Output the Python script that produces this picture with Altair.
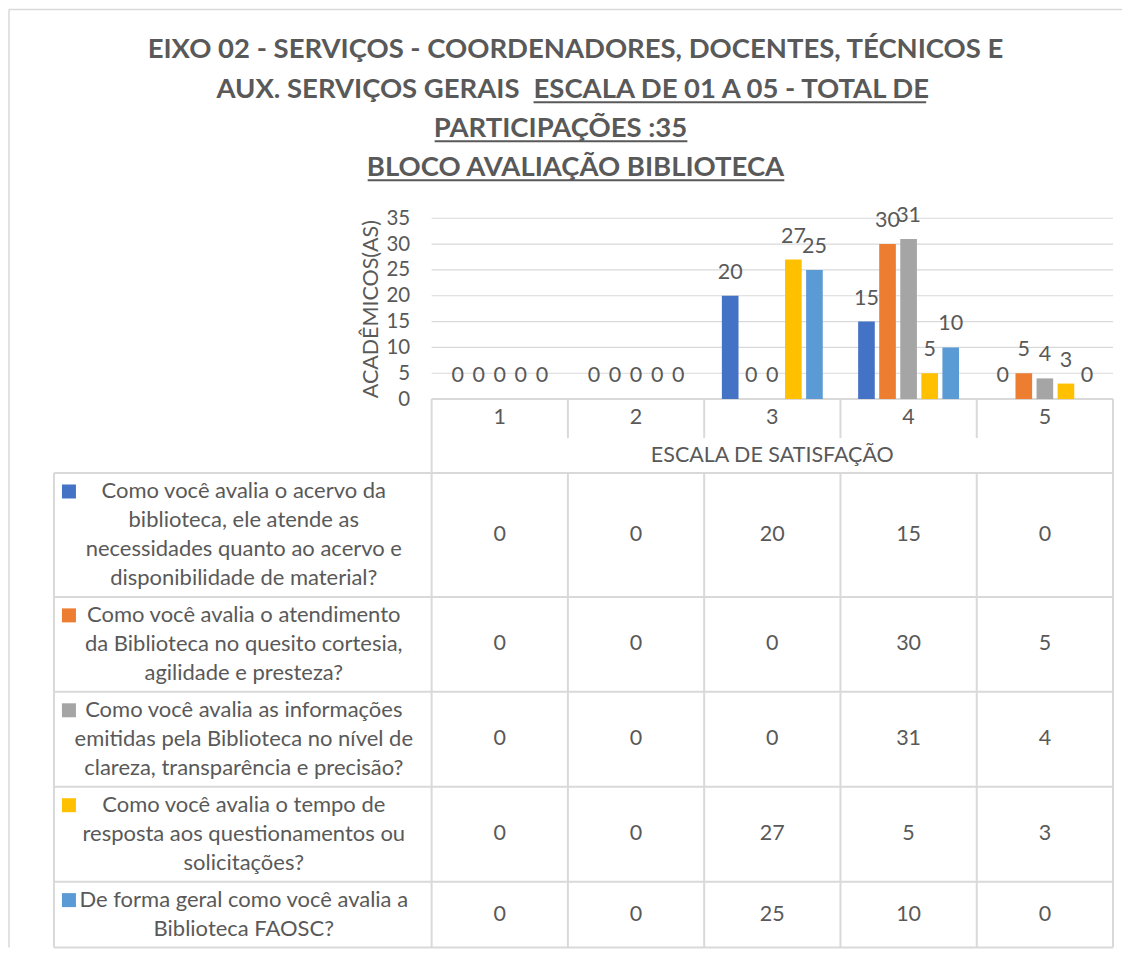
import altair as alt
import pandas as pd

# ---------------- data ----------------
categories = ["1", "2", "3", "4", "5"]
label_lines = [
    ["Como você avalia o acervo da", "biblioteca, ele atende as",
     "necessidades quanto ao acervo e", "disponibilidade de material?"],
    ["Como você avalia o atendimento", "da Biblioteca no quesito cortesia,",
     "agilidade e presteza?"],
    ["Como você avalia as informações", "emitidas pela Biblioteca no nível de",
     "clareza, transparência e precisão?"],
    ["Como você avalia o tempo de", "resposta aos questionamentos ou",
     "solicitações?"],
    ["De forma geral como você avalia a", "Biblioteca FAOSC?"],
]
acervo = [0, 0, 20, 15, 0]
atendimento = [0, 0, 0, 30, 5]
informacoes = [0, 0, 0, 31, 4]
tempo = [0, 0, 27, 5, 3]
geral = [0, 0, 25, 10, 0]
series_values = [acervo, atendimento, informacoes, tempo, geral]
colors = ["#4472C4", "#ED7D31", "#A5A5A5", "#FFC000", "#5B9BD5"]
y_ticks = [0, 5, 10, 15, 20, 25, 30, 35]

title_line1 = "EIXO 02 -  SERVIÇOS - COORDENADORES, DOCENTES, TÉCNICOS E"
title_line2a = "AUX. SERVIÇOS GERAIS"
title_line2b = "ESCALA DE 01 A 05 - TOTAL  DE"
title_line3 = "PARTICIPAÇÕES :35"
title_line4 = "BLOCO AVALIAÇÃO BIBLIOTECA"
y_title = "ACADÊMICOS(AS)"
x_title = "ESCALA DE SATISFAÇÃO"

# ---------------- layout / style ----------------
FONT = "Lato"
TXT = "#595959"
LINE = "#D9D9D9"
W, LABEL_W = 1060, 378
BAR_H = 181
HDR1_B, HDR2_B = 220, 255
LINE_H, ROW_PAD = 29, 8
TITLE_FS = 27.5

series_names = [" ".join(l) for l in label_lines]

rows = []
for name, vals in zip(series_names, series_values):
    for c, v in zip(categories, vals):
        rows.append({"series": name, "cat": c, "value": v})
df = pd.DataFrame(rows)

# table row geometry derived from the number of text lines
row_tops, row_bots = [], []
top = HDR2_B
for lines in label_lines:
    h = len(lines) * LINE_H + ROW_PAD
    row_tops.append(top)
    row_bots.append(top + h)
    top += h
H = top

cell_rows, line_rows, swatch_rows = [], [], []
for i, (name, vals, lines) in enumerate(zip(series_names, series_values, label_lines)):
    mid = (row_tops[i] + row_bots[i]) / 2
    for c, v in zip(categories, vals):
        cell_rows.append({"series": name, "cat": c, "txt": str(v), "y": mid})
    first = row_tops[i] + ROW_PAD / 2 + LINE_H / 2
    for j, t in enumerate(lines):
        line_rows.append({"txt": t, "y": first + j * LINE_H})
    swatch_rows.append({"series": name, "y": first})
cells_df = pd.DataFrame(cell_rows)
lines_df = pd.DataFrame(line_rows)
swatch_df = pd.DataFrame(swatch_rows)

hlines_df = pd.DataFrame({"y": [HDR2_B] + row_bots})
vsegs = []
for k, c in enumerate(categories):
    if k == 0:
        vsegs.append({"cat": c, "y1": BAR_H, "y2": H})
    else:
        vsegs.append({"cat": c, "y1": BAR_H, "y2": HDR1_B})
        vsegs.append({"cat": c, "y1": HDR2_B, "y2": H})
vsegs_df = pd.DataFrame(vsegs)
right_df = pd.DataFrame([{"cat": categories[-1], "y1": BAR_H, "y2": H}])
grid_df = pd.DataFrame({"tick": y_ticks})
one = pd.DataFrame({"a": [0]})

xscale = alt.Scale(domain=categories, range=[LABEL_W, W], paddingInner=0, paddingOuter=0)
yscale = alt.Scale(domain=[0, 35], range=[BAR_H, 0], nice=False, zero=True)
xoff = alt.Scale(domain=series_names, paddingInner=0.21, paddingOuter=0.84)
cscale = alt.Scale(domain=series_names, range=colors)

# frame
frame_top = alt.Chart(one).mark_rule(color=LINE, strokeWidth=1.5).encode(
    x=alt.value(-45), x2=alt.value(1069), y=alt.value(-209))
frame_left = alt.Chart(one).mark_rule(color=LINE, strokeWidth=1.5).encode(
    x=alt.value(-45), y=alt.value(-209), y2=alt.value(H))

grid = alt.Chart(grid_df).mark_rule(color=LINE).encode(
    y=alt.Y("tick:Q", scale=yscale, axis=None),
    x=alt.value(LABEL_W), x2=alt.value(W),
    strokeWidth=alt.condition("datum.tick === 0", alt.value(2), alt.value(1.2)),
)

bars = alt.Chart(df).mark_bar().encode(
    x=alt.X("cat:N", scale=xscale, axis=None),
    xOffset=alt.XOffset("series:N", scale=xoff),
    y=alt.Y("value:Q", scale=yscale,
            axis=alt.Axis(values=y_ticks, domain=False, ticks=False, grid=False,
                          offset=-LABEL_W, labelPadding=22, labelFont=FONT,
                          labelFontSize=20.5, labelColor=TXT, title=y_title,
                          titleFont=FONT, titleFontSize=21.5, titleFontWeight="normal",
                          titleColor=TXT, titlePadding=3)),
    color=alt.Color("series:N", scale=cscale, legend=None),
)

bar_labels = alt.Chart(df).mark_text(
    font=FONT, fontSize=21.5, color=TXT, baseline="alphabetic", dy=-17).encode(
    x=alt.X("cat:N", scale=xscale, axis=None),
    xOffset=alt.XOffset("series:N", scale=xoff),
    y=alt.Y("value:Q", scale=yscale, axis=None),
    text="value:Q",
)

hlines = alt.Chart(hlines_df).mark_rule(color=LINE, strokeWidth=2).encode(
    y=alt.Y("y:Q", scale=None, axis=None), x=alt.value(0), x2=alt.value(W))
left_line = alt.Chart(one).mark_rule(color=LINE, strokeWidth=2).encode(
    x=alt.value(0), y=alt.value(HDR2_B), y2=alt.value(H))
vlines = alt.Chart(vsegs_df).mark_rule(color=LINE, strokeWidth=2).encode(
    x=alt.X("cat:N", scale=xscale, axis=None, bandPosition=0),
    y=alt.Y("y1:Q", scale=None, axis=None), y2="y2:Q")
rline = alt.Chart(right_df).mark_rule(color=LINE, strokeWidth=2).encode(
    x=alt.X("cat:N", scale=xscale, axis=None, bandPosition=1),
    y=alt.Y("y1:Q", scale=None, axis=None), y2="y2:Q")

cat_labels = alt.Chart(pd.DataFrame({"cat": categories})).mark_text(
    font=FONT, fontSize=21.5, color=TXT, baseline="middle").encode(
    x=alt.X("cat:N", scale=xscale, axis=None), y=alt.value(BAR_H + 19), text="cat:N")
x_title_mark = alt.Chart(one).mark_text(
    font=FONT, fontSize=21.5, color=TXT, baseline="middle", text=x_title).encode(
    x=alt.value((LABEL_W + W) / 2), y=alt.value((HDR1_B + HDR2_B) / 2))

cells = alt.Chart(cells_df).mark_text(
    font=FONT, fontSize=21.5, color=TXT, baseline="middle").encode(
    x=alt.X("cat:N", scale=xscale, axis=None),
    y=alt.Y("y:Q", scale=None, axis=None), text="txt:N")
label_text = alt.Chart(lines_df).mark_text(
    font=FONT, fontSize=22, color=TXT, baseline="middle").encode(
    x=alt.value(LABEL_W / 2 + 1), y=alt.Y("y:Q", scale=None, axis=None), text="txt:N")
swatches = alt.Chart(swatch_df).mark_square(size=196, opacity=1, filled=True).encode(
    x=alt.value(15), y=alt.Y("y:Q", scale=None, axis=None),
    color=alt.Color("series:N", scale=cscale, legend=None))

def ttext(t, x, y, align="center"):
    return alt.Chart(one).mark_text(
        font=FONT, fontSize=TITLE_FS, fontWeight="bold", color=TXT, baseline="alphabetic",
        align=align, text=t).encode(x=alt.value(x), y=alt.value(y))

def uline(x1, x2, y):
    return alt.Chart(one).mark_rule(color=TXT, strokeWidth=2).encode(
        x=alt.value(x1), x2=alt.value(x2), y=alt.value(y))

titles = [
    ttext(title_line1, 522, -160),
    ttext(title_line2a, 466, -120, "right"),
    ttext(title_line2b, 480, -120, "left"),
    ttext(title_line3, 507, -81),
    ttext(title_line4, 522, -42),
    uline(480, 873, -116),
    uline(381, 634, -77),
    uline(314, 731, -38),
]

chart = alt.layer(
    frame_top, frame_left, grid, bars, bar_labels, hlines, left_line, vlines, rline,
    cat_labels, x_title_mark, cells, label_text, swatches, *titles
).resolve_scale(y="independent").properties(
    width=W, height=H, padding=0
).configure_view(stroke=None)

chart.save("out.html", embed_options={"renderer": "svg", "actions": False})
